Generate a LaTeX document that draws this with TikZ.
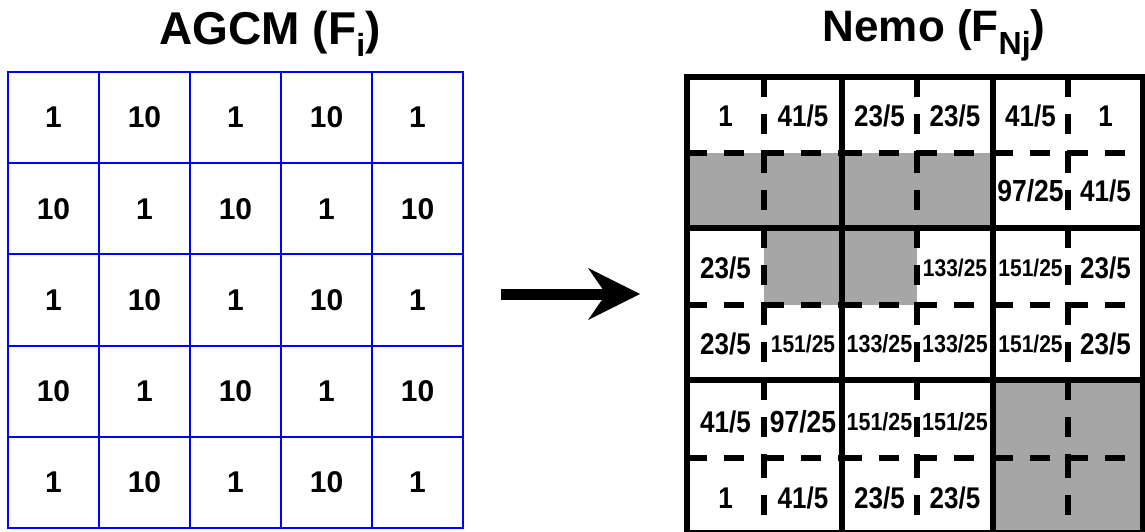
\documentclass[tikz,border=0pt]{standalone}
\usepackage{fontspec}
\setmainfont{Liberation Sans}
\usetikzlibrary{arrows.meta}
\definecolor{cellgray}{RGB}{166,166,166}
\definecolor{gridblue}{RGB}{0,0,255}
\newcommand\vst[1]{\scalebox{1}[1.15]{#1}}
\begin{document}
\begin{tikzpicture}[x=1pt,y=-1pt,
  lcell/.style={draw=gridblue, line width=2pt, minimum width=91pt, minimum height=91.2pt,
                inner sep=0pt, font=\bfseries\fontsize{30}{36}\selectfont},
  dline/.style={line width=5.5pt, dash pattern=on 20pt off 17pt},
  hline/.style={line width=5.5pt},
  rtext/.style={inner sep=0pt}]
\useasboundingbox (0,0) rectangle (1145,532);

% titles
\node[anchor=base, font=\bfseries\fontsize{46}{55}\selectfont] (t1) at (270,45)
  {AGCM (F\raisebox{-12pt}{\fontsize{32}{38}\selectfont i})};
\node[anchor=base, font=\bfseries\fontsize{44}{52}\selectfont] (t2) at (934,42)
  {Nemo (F\raisebox{-13pt}{\fontsize{32}{38}\selectfont Nj})};

% left grid
\foreach \r in {1,...,5} {
  \foreach \c in {1,...,5} {
    \pgfmathtruncatemacro\v{mod(\r+\c,2)==0 ? 1 : 10}
    \node[lcell] (L\r\c) at ({8+91*(\c-0.5)},{72+91.2*(\r-0.5)}) {\v};
  }
}

% arrow
\coordinate (aL) at (501,294);
\coordinate (aR) at (640,294);
\draw[line width=11pt, -{Stealth[length=52pt,width=52pt,inset=18pt,line width=0pt]}] (aL) -- (aR);

% right grid: grey cells
\fill[cellgray] (687,153) rectangle (993,228);
\fill[cellgray] (764,228) rectangle (917,305);
\fill[cellgray] (993,380) rectangle (1143,533);

% dashed fine lines
\foreach \yy in {153,305,458} {
  \foreach \xa/\xb in {687/764,764/842,842/917,917/993,993/1068,1068/1143} {
    \draw[dline] (\xa,\yy) -- (\xb,\yy);
  }
}
\foreach \xx in {764,917,1068} {
  \foreach \ya/\yb in {77/153,153/228,228/305,305/380,380/458,458/533} {
    \draw[dline] (\xx,\ya) -- (\xx,\yb);
  }
}

% heavy coarse lines
\draw[hline, line join=miter] (687,77) rectangle (1143,533);
\draw[hline] (842,77) -- (842,533);
\draw[hline] (993,77) -- (993,533);
\draw[hline] (687,228) -- (1143,228);
\draw[hline] (687,380) -- (1143,380);

% right grid values
\foreach \r/\c/\x/\y/\t/\fs in {
  1/1/725.5/116/1/26, 1/2/803/116/41\slash 5/26, 1/3/879.5/116/23\slash 5/26,
  1/4/955/116/23\slash 5/26, 1/5/1030.5/116/41\slash 5/26, 1/6/1105.5/116/1/26,
  2/5/1030.5/191/97\slash 25/26.5, 2/6/1105.5/191/41\slash 5/26,
  3/1/725.5/268/23\slash 5/26, 3/4/955/268/133\slash 25/21,
  3/5/1030.5/268/151\slash 25/21, 3/6/1105.5/268/23\slash 5/26,
  4/1/725.5/344/23\slash 5/26, 4/2/803/344/151\slash 25/21,
  4/3/879.5/344/133\slash 25/21.5, 4/4/955/344/133\slash 25/21.5,
  4/5/1030.5/344/151\slash 25/21, 4/6/1105.5/344/23\slash 5/26,
  5/1/725.5/422/41\slash 5/26, 5/2/803/422/97\slash 25/26.5,
  5/3/879.5/422/151\slash 25/21.5, 5/4/955/422/151\slash 25/21.5,
  6/1/725.5/498/1/26, 6/2/803/498/41\slash 5/26,
  6/3/879.5/498/23\slash 5/26, 6/4/955/498/23\slash 5/26} {
  \node[rtext, font=\bfseries\fontsize{\fs}{\fs}\selectfont] (R\r\c) at (\x,\y) {\vst{\t}};
}
\end{tikzpicture}
\end{document}
